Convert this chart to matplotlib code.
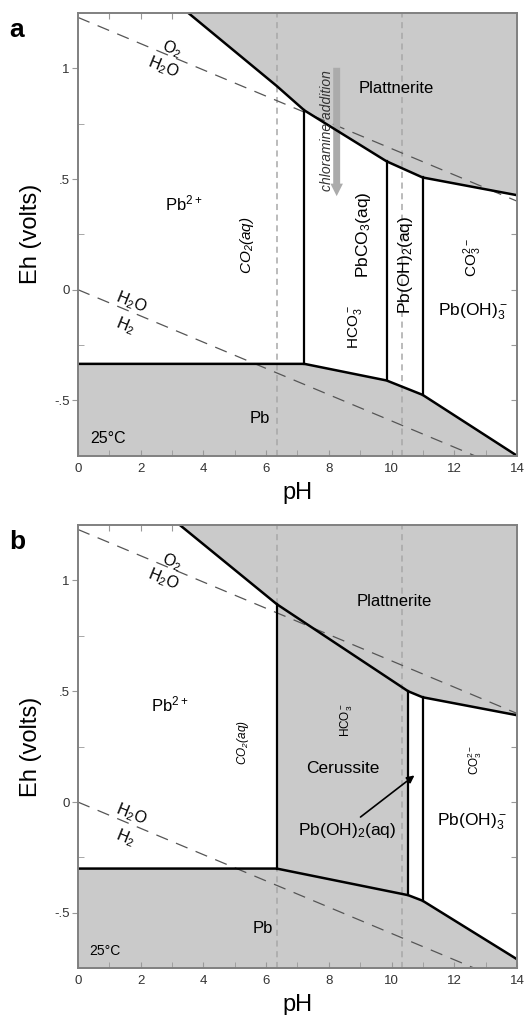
import numpy as np
import matplotlib
matplotlib.use("Agg")
import matplotlib.pyplot as plt

plt.rcParams['font.family'] = ['Liberation Sans', 'DejaVu Sans']
plt.rcParams['mathtext.default'] = 'regular'

# ---- stability-field boundaries (pH, Eh in volts) ----
# panel a: no cerussite
a_plat_ph = [3.52, 6.34, 7.22, 9.84, 10.99, 14.0]
a_plat_eh = [1.25, 0.92, 0.81, 0.58, 0.507, 0.427]
a_pb_ph = [0.0, 7.22, 9.84, 10.99, 14.0]
a_pb_eh = [-0.335, -0.335, -0.41, -0.475, -0.75]
a_field_edges = [7.22, 9.84, 10.99]

# panel b: cerussite stable
b_plat_ph = [3.25, 6.34, 10.53, 10.99, 14.0]
b_plat_eh = [1.25, 0.893, 0.50, 0.473, 0.392]
b_pb_ph = [0.0, 6.34, 10.53, 10.99, 14.0]
b_pb_eh = [-0.30, -0.30, -0.42, -0.445, -0.709]
b_field_edges = [6.34, 10.53, 10.99]
b_cerussite = [6.34, 10.53]

# water stability limits
o2_ph, o2_eh = [0.0, 14.0], [1.23, 0.40]
h2_ph, h2_eh = [0.0, 14.0], [0.0, -0.83]

# carbonate speciation pK values
carb_pk = [6.35, 10.33]

ph_ticks = [0, 2, 4, 6, 8, 10, 12, 14]
eh_ticks = [-0.5, 0.0, 0.5, 1.0]
eh_ticklabels = ['-.5', '0', '.5', '1']

XMIN, XMAX, YMIN, YMAX = 0, 14, -0.75, 1.25
FILL = '#cacaca'
FRAME = '#808080'

fig = plt.figure(figsize=(5.29, 10.15), dpi=100)
ax_a = fig.add_axes([0.1474, 0.551, 0.8299, 0.4362])
ax_b = fig.add_axes([0.1474, 0.046, 0.8299, 0.4367])


def base(ax, plat_ph, plat_eh, pb_ph, pb_eh, edges):
    ax.set_xlim(XMIN, XMAX)
    ax.set_ylim(YMIN, YMAX)
    ax.fill_between(plat_ph, plat_eh, YMAX, color=FILL, lw=0, zorder=1)
    ax.fill_between(pb_ph, YMIN, pb_eh, color=FILL, lw=0, zorder=1)
    for pk in carb_pk:
        ax.axvline(pk, color='#a8a8a8', lw=1.1, ls=(0, (4, 3)), zorder=2)
    ax.plot(o2_ph, o2_eh, color='#555555', lw=0.9, ls=(0, (10, 7)), zorder=3)
    ax.plot(h2_ph, h2_eh, color='#555555', lw=0.9, ls=(0, (10, 7)), zorder=3)
    ax.plot(plat_ph, plat_eh, color='k', lw=1.8, zorder=5)
    ax.plot(pb_ph, pb_eh, color='k', lw=1.8, zorder=5)
    for x in edges:
        ax.plot([x, x], [np.interp(x, pb_ph, pb_eh), np.interp(x, plat_ph, plat_eh)],
                color='k', lw=1.6, zorder=5)

    for s in ax.spines.values():
        s.set_color(FRAME)
        s.set_linewidth(1.4)
        s.set_zorder(6)
    ax.set_xticks(ph_ticks)
    ax.set_xticks(np.arange(1, 14, 1), minor=True)
    ax.set_yticks(eh_ticks, eh_ticklabels)
    ax.set_yticks(np.arange(-0.5, 1.26, 0.25), minor=True)
    ax.tick_params(axis='x', which='both', direction='in', length=4, color='#999999',
                   labelsize=9.5, labelcolor='#333333', pad=5)
    ax.tick_params(axis='y', which='major', direction='out', length=4, color='#999999',
                   labelsize=9.5, labelcolor='#333333', pad=2)
    ax.tick_params(axis='y', which='minor', direction='in', length=4, color='#999999')
    top = ax.secondary_xaxis('top')
    top.set_xticks(np.arange(1, 14, 1))
    top.tick_params(direction='in', length=4, color='#999999', labeltop=False)
    top.spines['top'].set_visible(False)
    right = ax.secondary_yaxis('right')
    right.set_yticks(np.arange(-0.5, 1.26, 0.25))
    right.tick_params(direction='in', length=4, color='#999999', labelright=False)
    right.spines['right'].set_visible(False)

    ax.set_xlabel('pH', fontsize=17, labelpad=5)
    ax.set_ylabel('Eh (volts)', fontsize=17, labelpad=9)

    # water-line labels
    rot = -22
    ax.text(2.99, 1.085, r'O$_2$', fontsize=11.5, rotation=rot, ha='center', va='center', zorder=7)
    ax.text(2.72, 1.005, r'H$_2$O', fontsize=11.5, rotation=rot, ha='center', va='center', zorder=7)
    ax.text(1.71, -0.055, r'H$_2$O', fontsize=11.5, rotation=rot, ha='center', va='center', zorder=7)
    ax.text(1.50, -0.162, r'H$_2$', fontsize=11.5, rotation=rot, ha='center', va='center', zorder=7)


base(ax_a, a_plat_ph, a_plat_eh, a_pb_ph, a_pb_eh, a_field_edges)
base(ax_b, b_plat_ph, b_plat_eh, b_pb_ph, b_pb_eh, b_field_edges)

# cerussite field in panel b
ax_b.fill_between(b_cerussite,
                  np.interp(b_cerussite, b_pb_ph, b_pb_eh),
                  np.interp(b_cerussite, b_plat_ph, b_plat_eh),
                  color=FILL, lw=0, zorder=1)

# ---- panel a labels ----
ax_a.text(10.16, 0.91, 'Plattnerite', fontsize=12, ha='center', va='center', zorder=7)
ax_a.text(3.36, 0.39, r'Pb$^{2+}$', fontsize=12, ha='center', va='center', zorder=7)
ax_a.text(5.38, 0.20, r'CO$_2$(aq)', fontsize=11, style='italic', rotation=90,
          ha='center', va='center', zorder=7)
ax_a.text(8.83, -0.17, r'HCO$_3^-$', fontsize=11, rotation=90, ha='center', va='center', zorder=7)
ax_a.text(9.09, 0.25, r'PbCO$_3$(aq)', fontsize=12.5, rotation=90, ha='center', va='center', zorder=7)
ax_a.text(10.43, 0.11, r'Pb(OH)$_2$(aq)', fontsize=12.5, rotation=90, ha='center', va='center', zorder=7)
ax_a.text(12.6, 0.145, r'CO$_3^{2-}$', fontsize=11, rotation=90, ha='center', va='center', zorder=7)
ax_a.text(12.6, -0.10, r'Pb(OH)$_3^-$', fontsize=12.5, ha='center', va='center', zorder=7)
ax_a.text(5.8, -0.58, 'Pb', fontsize=12, ha='center', va='center', zorder=7)
ax_a.text(0.96, -0.67, '25°C', fontsize=11.5, ha='center', va='center', zorder=7)

# chloramine addition arrow
ax_a.annotate('', xy=(8.25, 0.41), xytext=(8.25, 1.015),
              arrowprops=dict(arrowstyle='simple,head_width=0.9,head_length=0.9,tail_width=0.5',
                              color='#ababab', lw=0, mutation_scale=10),
              zorder=4)
ax_a.text(7.93, 0.72, 'chloramine addition', fontsize=10, style='italic', rotation=90,
          ha='center', va='center', color='#333333', zorder=7)

# ---- panel b labels ----
ax_b.text(10.1, 0.905, 'Plattnerite', fontsize=12, ha='center', va='center', zorder=7)
ax_b.text(2.93, 0.44, r'Pb$^{2+}$', fontsize=12, ha='center', va='center', zorder=7)
ax_b.text(5.27, 0.27, r'CO$_2$(aq)', fontsize=8.5, style='italic', rotation=90,
          ha='center', va='center', zorder=7)
ax_b.text(8.57, 0.37, r'HCO$_3^-$', fontsize=8.5, rotation=90, ha='center', va='center', zorder=7)
ax_b.text(8.46, 0.15, 'Cerussite', fontsize=12.5, ha='center', va='center', zorder=7)
ax_b.text(8.57, -0.13, r'Pb(OH)$_2$(aq)', fontsize=12.5, ha='center', va='center', zorder=7)
ax_b.annotate('', xy=(10.8, 0.128), xytext=(8.94, -0.075),
              arrowprops=dict(arrowstyle='-|>', color='k', lw=1.2, mutation_scale=11),
              zorder=7)
ax_b.text(12.66, 0.19, r'CO$_3^{2-}$', fontsize=8.5, rotation=90, ha='center', va='center', zorder=7)
ax_b.text(12.55, -0.09, r'Pb(OH)$_3^-$', fontsize=12.5, ha='center', va='center', zorder=7)
ax_b.text(5.91, -0.57, 'Pb', fontsize=12, ha='center', va='center', zorder=7)
ax_b.text(0.86, -0.67, '25°C', fontsize=10, ha='center', va='center', zorder=7)

# panel letters
fig.text(0.032, 0.970, 'a', fontsize=19, fontweight='bold', ha='center', va='center')
fig.text(0.032, 0.466, 'b', fontsize=19, fontweight='bold', ha='center', va='center')

fig.savefig('out.png', dpi=100)
